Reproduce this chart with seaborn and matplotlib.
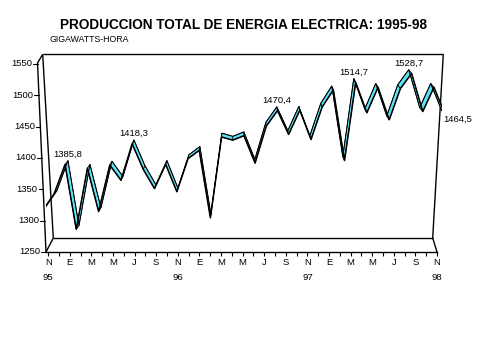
import numpy as np
import pandas as pd
import matplotlib
matplotlib.use('Agg')
import matplotlib.pyplot as plt
import seaborn as sns

sns.set_style('white')
plt.rcParams['font.family'] = ['Liberation Sans', 'DejaVu Sans']
plt.rcParams['text.color'] = 'black'
plt.rcParams['xtick.color'] = 'black'
plt.rcParams['ytick.color'] = 'black'

# Monthly production, Nov-95 .. Nov-98 (GWh)
values = [1314, 1339, 1385.8, 1284, 1380, 1312, 1385, 1361, 1418.3, 1378,
          1348, 1386, 1343, 1395, 1408, 1302, 1429, 1424, 1431, 1388,
          1446, 1470.4, 1433, 1471, 1425, 1476, 1503, 1392, 1514.7, 1467,
          1507, 1456, 1505, 1528.7, 1469, 1507, 1464.5]
months = list(range(len(values)))
tick_labels = ['N\n95', 'E', 'M', 'M', 'J', 'S', 'N\n96', 'E', 'M', 'M', 'J', 'S',
               'N\n97', 'E', 'M', 'M', 'J', 'S', 'N\n98']
tick_pos = months[::2]
y_ticks = [1250, 1300, 1350, 1400, 1450, 1500, 1550]
label_idx = [2, 8, 21, 28, 33, 36]

RIBBON = '#5ce4f6'
W, H = 479, 359
FS = 6.8

fig = plt.figure(figsize=(W / 100, H / 100), dpi=100)

# pixel overlay for the 3d box (walls + floor)
frame = fig.add_axes([0, 0, 1, 1], zorder=0)
frame.set_xlim(0, W)
frame.set_ylim(H, 0)
frame.axis('off')
box = [((42.7, 54.3), (443.3, 54.3)),   # back wall top
       ((42.7, 54.3), (53.3, 238.0)),   # back wall left
       ((443.3, 54.3), (432.7, 238.0)), # back wall right
       ((53.3, 238.0), (432.7, 238.0)), # floor back
       ((53.3, 238.0), (46.0, 252.0)),  # floor left
       ((432.7, 238.0), (437.0, 252.0)),# floor right
       ((37.5, 63.0), (42.7, 54.3)),    # top-left corner
       ((37.5, 63.0), (46.0, 252.0))]   # slanted value axis
for (x0, y0), (x1, y1) in box:
    frame.plot([x0, x1], [y0, y1], color='black', lw=1.0, solid_capstyle='butt')

# front plane: category axis
ax0 = fig.add_axes([46.1 / W, 1 - 252 / H, (437 - 46.1) / W, (252 - 64) / H], zorder=1)
ax0.set_xlim(-0.2, 36)
ax0.set_ylim(1250, 1550)
ax0.patch.set_alpha(0)
for s in ['left', 'right', 'top']:
    ax0.spines[s].set_visible(False)
ax0.spines['bottom'].set_linewidth(1.0)
ax0.spines['bottom'].set_color('black')
ax0.set_yticks([])
ax0.set_xticks(tick_pos)
ax0.set_xticks(months, minor=True)
ax0.set_xticklabels(tick_labels, fontsize=FS)
for t in ax0.get_xticklabels():
    t.set_linespacing(1.75)
ax0.tick_params(axis='x', which='both', direction='out', length=3, width=0.8,
                color='black', pad=1.5, bottom=True)

# slanted value axis ticks, placed with the front plane scale
for t in y_ticks:
    ypx = H - ax0.transData.transform((0, t))[1]
    xpx = 37.5 + (ypx - 63.0) / (252.0 - 63.0) * (46.0 - 37.5)
    frame.plot([xpx - 4.5, xpx], [ypx, ypx], color='black', lw=0.8)
    frame.text(xpx - 5.5, ypx, str(t), ha='right', va='center', fontsize=FS)

# ribbon plane (set back a little from the front plane)
ax = fig.add_axes([46 / W, 1 - 247.2 / H, (441.7 - 46) / W, (247.2 - 56.1) / H], zorder=2)
ax.set_xlim(0, 36)
ax.set_ylim(1250, 1550)
ax.axis('off')
ax.patch.set_alpha(0)

df = pd.DataFrame({'mes': months, 'gwh': values})
back_px = ax.transData.transform(df[['mes', 'gwh']].to_numpy(dtype=float))
cx = W / 2
dx = (cx - back_px[:, 0]) * 0.017
front_px = np.column_stack([back_px[:, 0] - dx, back_px[:, 1] - 3.8])
front = ax.transData.inverted().transform(front_px)
back = df[['mes', 'gwh']].to_numpy(dtype=float)

for i in range(len(df) - 1):
    poly = np.array([back[i], back[i + 1], front[i + 1], front[i]])
    ax.fill(poly[:, 0], poly[:, 1], facecolor=RIBBON, edgecolor='black', lw=0.5)

sns.lineplot(data=df, x='mes', y='gwh', ax=ax, color='black', lw=0.7)
ax.plot(front[:, 0], front[:, 1], color='black', lw=1.1)

for i in label_idx:
    v = values[i]
    txt = f'{v:.1f}'.replace('.', ',')
    if i == len(values) - 1:
        ax.annotate(txt, (i, v), xytext=(1, -6.5), textcoords='offset points',
                    ha='left', va='center', fontsize=FS)
    else:
        ax.annotate(txt, (i, v), xytext=(0, 4.5), textcoords='offset points',
                    ha='center', va='center', fontsize=FS)

fig.text(243.5 / W, 1 - 24.7 / H, 'PRODUCCION TOTAL DE ENERGIA ELECTRICA: 1995-98',
         ha='center', va='center', fontsize=9.8, fontweight='bold')
fig.text(50 / W, 1 - 40 / H, 'GIGAWATTS-HORA', ha='left', va='center', fontsize=6.3)

fig.savefig('out.png', dpi=100)
